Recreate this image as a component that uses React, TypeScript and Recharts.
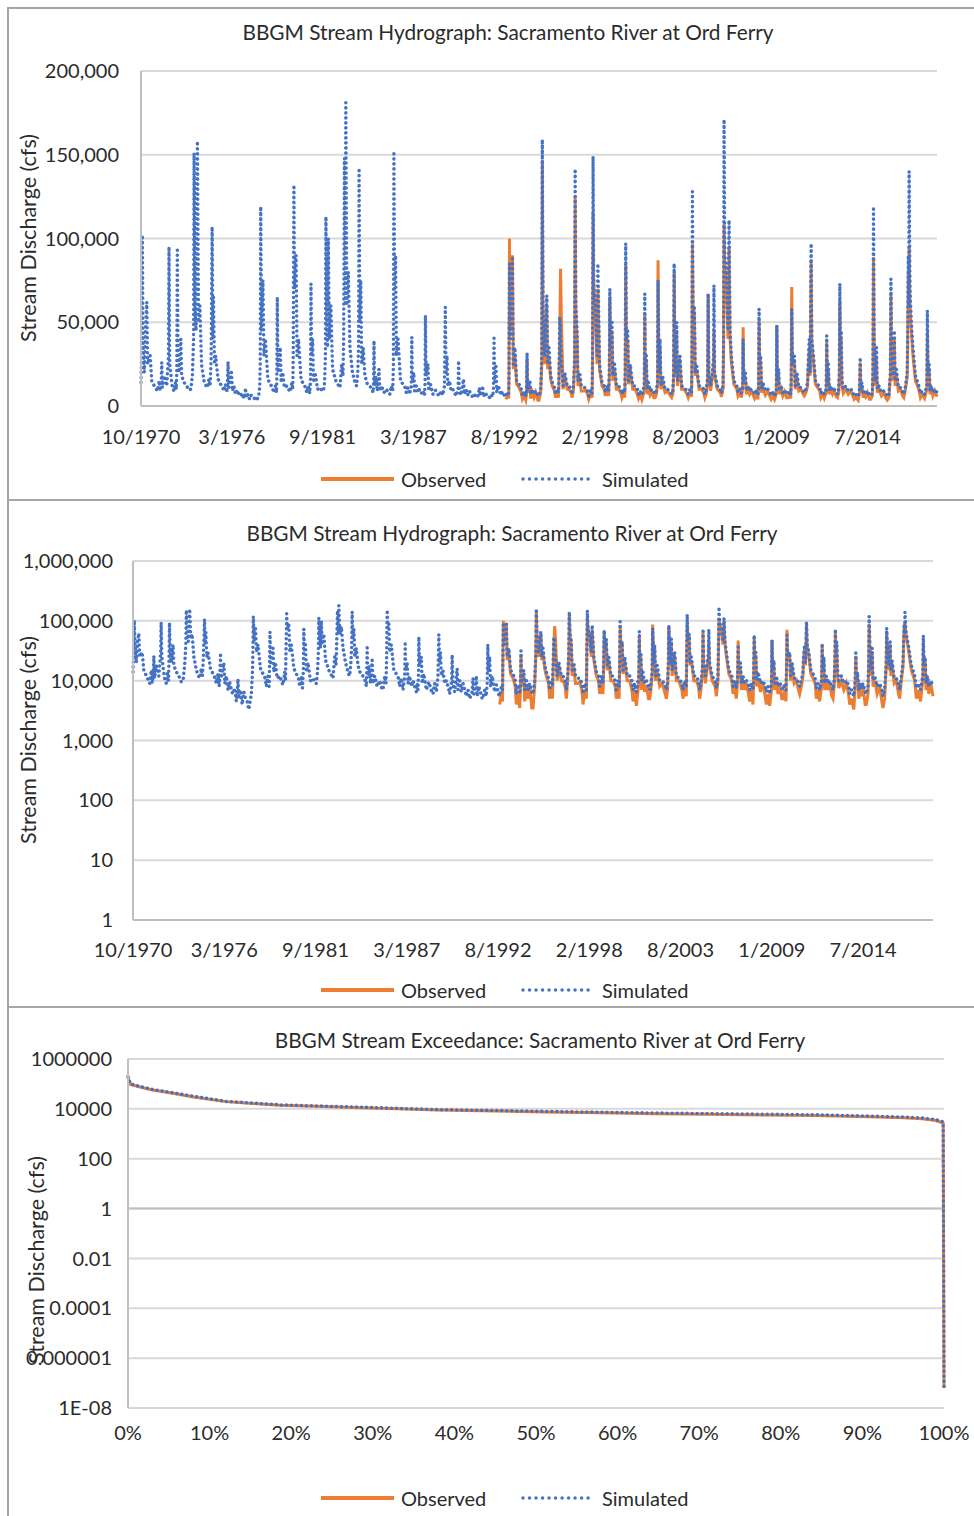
import React from "react";
import { LineChart, Line, XAxis, YAxis, CartesianGrid, ReferenceLine } from "recharts";

const FONT = "Lato, 'Open Sans', sans-serif";
const ORANGE = "#ED7D31";
const BLUE = "#4472C4";
const GRID = "#d9d9d9";
const AXIS = "#bfbfbf";
const TEXT = "#2b2b2b";
const FRAME = "#a6a6a6";

// hydrograph time axis: days since 10/1/1970
const START_YEAR = 1970.75;
const END_DAY = 17530;
const DATE_TICK_DAYS = [0, 2000, 4000, 6000, 8000, 10000, 12000, 14000, 16000];
const DATE_TICK_LABELS = ["10/1970", "3/1976", "9/1981", "3/1987", "8/1992", "2/1998", "8/2003", "1/2009", "7/2014"];

const LINEAR_TICKS = [0, 50000, 100000, 150000, 200000];
const LINEAR_TICK_LABELS = ["0", "50,000", "100,000", "150,000", "200,000"];
const LOG_TICKS = [1, 10, 100, 1000, 10000, 100000, 1000000];
const LOG_TICK_LABELS = ["1", "10", "100", "1,000", "10,000", "100,000", "1,000,000"];
const EXC_TICKS = [1e-8, 1e-6, 1e-4, 1e-2, 1, 100, 10000, 1000000];
const EXC_TICK_LABELS = ["1E-08", "0.000001", "0.0001", "0.01", "1", "100", "10000", "1000000"];
const PCT_TICKS = [0, 0.1, 0.2, 0.3, 0.4, 0.5, 0.6, 0.7, 0.8, 0.9, 1];
const PCT_TICK_LABELS = ["0%", "10%", "20%", "30%", "40%", "50%", "60%", "70%", "80%", "90%", "100%"];

// sample dates (decimal year), 12 per water year
const HYDRO_YEARS = [
  1970.75, 1970.79, 1970.83, 1970.87, 1970.95, 1971.02, 1971.1, 1971.15, 1971.3, 1971.4, 1971.55, 1971.68, // WY1971
  1971.75, 1971.85, 1971.9, 1971.97, 1972.0, 1972.04, 1972.15, 1972.3, 1972.41, 1972.44, 1972.48, 1972.65,
  1972.75, 1972.82, 1972.88, 1972.91, 1972.94, 1972.98, 1973.05, 1973.15, 1973.2, 1973.35, 1973.5, 1973.65,
  1973.75, 1973.85, 1973.92, 1973.95, 1974.0, 1974.07, 1974.15, 1974.22, 1974.3, 1974.4, 1974.55, 1974.68,
  1974.75, 1974.85, 1974.92, 1974.98, 1975.04, 1975.08, 1975.12, 1975.18, 1975.25, 1975.4, 1975.55, 1975.68,
  1975.75, 1975.85, 1975.92, 1975.96, 1976.0, 1976.04, 1976.2, 1976.26, 1976.35, 1976.45, 1976.55, 1976.68,
  1976.75, 1976.85, 1976.95, 1977.0, 1977.05, 1977.1, 1977.2, 1977.3, 1977.4, 1977.5, 1977.6, 1977.7,
  1977.75, 1977.85, 1977.91, 1977.94, 1977.97, 1978.01, 1978.1, 1978.16, 1978.25, 1978.4, 1978.55, 1978.68,
  1978.75, 1978.85, 1978.92, 1978.94, 1978.97, 1979.01, 1979.15, 1979.2, 1979.3, 1979.4, 1979.55, 1979.68,
  1979.75, 1979.85, 1979.9, 1979.93, 1979.97, 1980.0, 1980.1, 1980.16, 1980.25, 1980.4, 1980.55, 1980.68, // WY1980
  1980.75, 1980.85, 1980.92, 1980.97, 1981.0, 1981.03, 1981.1, 1981.15, 1981.25, 1981.4, 1981.55, 1981.68,
  1981.75, 1981.82, 1981.87, 1981.9, 1981.95, 1982.0, 1982.05, 1982.1, 1982.2, 1982.3, 1982.5, 1982.68,
  1982.75, 1982.85, 1982.93, 1982.97, 1983.02, 1983.07, 1983.1, 1983.16, 1983.25, 1983.35, 1983.5, 1983.68,
  1983.75, 1983.82, 1983.87, 1983.9, 1983.94, 1984.0, 1984.06, 1984.15, 1984.25, 1984.4, 1984.55, 1984.68,
  1984.75, 1984.78, 1984.8, 1984.83, 1984.9, 1985.0, 1985.1, 1985.15, 1985.25, 1985.4, 1985.55, 1985.68,
  1985.75, 1985.85, 1985.93, 1985.97, 1986.0, 1986.04, 1986.1, 1986.15, 1986.25, 1986.4, 1986.55, 1986.68,
  1986.75, 1986.85, 1986.95, 1987.05, 1987.08, 1987.11, 1987.2, 1987.25, 1987.35, 1987.45, 1987.55, 1987.68,
  1987.75, 1987.8, 1987.85, 1987.88, 1987.9, 1987.94, 1988.05, 1988.1, 1988.2, 1988.35, 1988.5, 1988.68,
  1988.75, 1988.85, 1988.95, 1989.05, 1989.1, 1989.14, 1989.2, 1989.25, 1989.35, 1989.45, 1989.55, 1989.68,
  1989.75, 1989.82, 1989.87, 1989.9, 1989.94, 1990.05, 1990.2, 1990.25, 1990.35, 1990.45, 1990.55, 1990.68, // WY1990
  1990.75, 1990.85, 1990.95, 1991.1, 1991.15, 1991.2, 1991.3, 1991.35, 1991.4, 1991.5, 1991.6, 1991.7,
  1991.75, 1991.85, 1991.95, 1992.0, 1992.04, 1992.07, 1992.15, 1992.2, 1992.3, 1992.45, 1992.55, 1992.68,
  1992.75, 1992.85, 1992.92, 1992.94, 1992.97, 1993.0, 1993.15, 1993.2, 1993.3, 1993.4, 1993.55, 1993.68, // WY1993, observed starts
  1993.75, 1993.85, 1993.95, 1994.0, 1994.03, 1994.06, 1994.2, 1994.25, 1994.35, 1994.45, 1994.55, 1994.68,
  1994.75, 1994.85, 1994.92, 1994.95, 1994.99, 1995.08, 1995.22, 1995.27, 1995.35, 1995.45, 1995.55, 1995.68,
  1995.75, 1995.85, 1995.92, 1995.95, 1996.0, 1996.05, 1996.1, 1996.2, 1996.3, 1996.45, 1996.55, 1996.68,
  1996.75, 1996.83, 1996.9, 1996.93, 1996.97, 1997.05, 1997.1, 1997.2, 1997.3, 1997.45, 1997.55, 1997.68,
  1997.75, 1997.85, 1997.95, 1997.98, 1998.01, 1998.05, 1998.15, 1998.25, 1998.3, 1998.4, 1998.55, 1998.68,
  1998.75, 1998.85, 1998.95, 1998.99, 1999.02, 1999.06, 1999.15, 1999.2, 1999.3, 1999.42, 1999.55, 1999.68,
  1999.75, 1999.85, 1999.92, 1999.95, 1999.98, 2000.02, 2000.1, 2000.15, 2000.25, 2000.4, 2000.55, 2000.68, // WY2000
  2000.75, 2000.85, 2000.95, 2001.1, 2001.13, 2001.16, 2001.22, 2001.27, 2001.35, 2001.45, 2001.55, 2001.68,
  2001.75, 2001.83, 2001.9, 2001.93, 2001.97, 2002.0, 2002.05, 2002.1, 2002.2, 2002.35, 2002.5, 2002.68,
  2002.75, 2002.82, 2002.87, 2002.9, 2002.94, 2003.0, 2003.05, 2003.1, 2003.25, 2003.35, 2003.5, 2003.68,
  2003.75, 2003.85, 2003.95, 2003.97, 2004.0, 2004.04, 2004.12, 2004.17, 2004.25, 2004.4, 2004.55, 2004.68,
  2004.75, 2004.85, 2004.92, 2004.95, 2004.99, 2005.1, 2005.2, 2005.28, 2005.3, 2005.34, 2005.5, 2005.68,
  2005.75, 2005.85, 2005.88, 2005.91, 2005.95, 2006.05, 2006.15, 2006.21, 2006.27, 2006.35, 2006.5, 2006.68,
  2006.75, 2006.85, 2006.95, 2007.03, 2007.06, 2007.1, 2007.2, 2007.25, 2007.35, 2007.45, 2007.55, 2007.68,
  2007.75, 2007.85, 2007.95, 2007.99, 2008.02, 2008.06, 2008.12, 2008.17, 2008.25, 2008.4, 2008.55, 2008.68,
  2008.75, 2008.85, 2008.95, 2009.06, 2009.09, 2009.13, 2009.2, 2009.25, 2009.35, 2009.45, 2009.55, 2009.68,
  2009.75, 2009.85, 2009.93, 2009.96, 2009.99, 2010.03, 2010.15, 2010.2, 2010.3, 2010.42, 2010.55, 2010.68, // WY2010
  2010.75, 2010.85, 2010.95, 2010.98, 2011.05, 2011.1, 2011.16, 2011.2, 2011.3, 2011.42, 2011.55, 2011.68,
  2011.75, 2011.85, 2011.95, 2012.07, 2012.1, 2012.14, 2012.2, 2012.25, 2012.35, 2012.45, 2012.55, 2012.68,
  2012.75, 2012.82, 2012.86, 2012.89, 2012.93, 2012.97, 2013.02, 2013.1, 2013.25, 2013.4, 2013.55, 2013.68,
  2013.75, 2013.85, 2014.0, 2014.08, 2014.12, 2014.16, 2014.22, 2014.3, 2014.38, 2014.45, 2014.55, 2014.68,
  2014.75, 2014.85, 2014.89, 2014.92, 2014.96, 2015.02, 2015.1, 2015.15, 2015.25, 2015.4, 2015.55, 2015.68,
  2015.75, 2015.85, 2015.94, 2015.97, 2016.01, 2016.1, 2016.18, 2016.22, 2016.3, 2016.42, 2016.55, 2016.68,
  2016.75, 2016.85, 2016.95, 2016.98, 2017.02, 2017.05, 2017.07, 2017.12, 2017.2, 2017.3, 2017.45, 2017.65,
  2017.75, 2017.85, 2018.0, 2018.14, 2018.17, 2018.21, 2018.28, 2018.33, 2018.42, 2018.5, 2018.62, 2018.75,
];

const SIM_CFS = [
  14000, 35000, 102000, 40000, 20000, 45000, 62000, 25000, 30000, 15000, 12000, 10000, // WY1971
  9000, 15000, 9000, 14000, 26000, 11000, 18000, 12000, 30000, 95000, 25000, 10500,
  9000, 14000, 10000, 22000, 93000, 30000, 20000, 40000, 18000, 14000, 12000, 9500,
  10000, 18000, 40000, 151000, 60000, 45000, 158000, 50000, 60000, 25000, 15000, 12000,
  11000, 16000, 12000, 28000, 107000, 40000, 65000, 25000, 30000, 16000, 13000, 11000,
  9000, 13000, 8000, 12000, 26500, 11000, 20000, 9000, 12000, 7000, 9500, 6500,
  6000, 7500, 4500, 6000, 10700, 5000, 7000, 4000, 6500, 5000, 4500, 3300,
  4000, 6000, 12000, 25000, 119000, 45000, 75000, 30000, 40000, 16000, 13000, 11000,
  8000, 12000, 8000, 15000, 65000, 20000, 35000, 14000, 20000, 11000, 12000, 9500,
  8500, 14000, 10000, 30000, 132000, 70000, 90000, 30000, 40000, 16000, 13000, 11000, // WY1980
  8000, 12000, 7500, 15000, 73000, 30000, 40000, 14000, 20000, 10000, 11000, 9000,
  9000, 14000, 30000, 113000, 50000, 35000, 100000, 40000, 60000, 22000, 15000, 12000,
  11000, 25000, 18000, 40000, 148000, 60000, 181000, 60000, 80000, 35000, 20000, 13000,
  12000, 20000, 35000, 142000, 50000, 75000, 25000, 35000, 18000, 13000, 12000, 10000,
  8000, 15000, 39000, 12000, 18000, 9000, 22000, 9000, 12000, 8000, 10000, 7500,
  7000, 12000, 9000, 25000, 152000, 70000, 90000, 30000, 40000, 15000, 13000, 11000,
  8000, 11000, 7000, 12000, 41000, 15000, 20000, 9000, 12000, 8000, 10000, 7500,
  6500, 9000, 7000, 14000, 54000, 18000, 25000, 9000, 13000, 7000, 9500, 6500,
  6000, 9000, 6500, 12000, 59000, 20000, 30000, 12000, 15000, 9000, 10000, 7500,
  6000, 8000, 10000, 27000, 9000, 6500, 16000, 7000, 10000, 6500, 9000, 6500, // WY1990
  5500, 7000, 5000, 6500, 11000, 6000, 8000, 12000, 5500, 8000, 6500, 5000,
  5000, 7000, 5500, 9000, 40500, 14000, 25000, 8000, 12000, 6500, 8500, 6000,
  5500, 8000, 7000, 20000, 85000, 40000, 88000, 25000, 35000, 15000, 13000, 10000,
  6000, 8500, 6000, 9000, 31600, 10000, 15000, 7000, 10000, 7000, 9000, 6500,
  6000, 10000, 30000, 159000, 60000, 30000, 66000, 25000, 35000, 18000, 14000, 11000,
  7000, 10000, 8000, 15000, 53000, 45000, 25000, 12000, 20000, 12000, 12000, 10000,
  7000, 12000, 30000, 141500, 60000, 45000, 15000, 20000, 12000, 11000, 11000, 9000,
  6000, 9000, 7000, 30000, 149000, 70000, 60000, 30000, 85000, 25000, 14000, 12000,
  8000, 12000, 9000, 20000, 70000, 35000, 50000, 18000, 25000, 12000, 12000, 10000,
  7000, 10000, 8000, 20000, 97000, 40000, 45000, 15000, 25000, 12000, 12000, 10000, // WY2000
  7000, 9000, 6500, 12000, 67000, 20000, 30000, 10000, 14000, 9000, 10000, 8000,
  7000, 9000, 15000, 75000, 35000, 20000, 40000, 12000, 18000, 10000, 10000, 8500,
  7000, 9000, 20000, 85000, 35000, 20000, 50000, 15000, 30000, 12000, 11000, 9000,
  7000, 10000, 8000, 25000, 128000, 50000, 60000, 20000, 25000, 12000, 12000, 10000,
  7000, 10000, 18000, 67000, 20000, 12000, 20000, 30000, 72000, 20000, 12000, 10000,
  7500, 12000, 40000, 171000, 90000, 80000, 45000, 111000, 45000, 30000, 15000, 12000,
  8000, 10000, 7500, 12000, 40000, 15000, 20000, 9000, 12000, 9000, 10000, 8500,
  7000, 9000, 7000, 12000, 58000, 25000, 30000, 10000, 14000, 9000, 10000, 8000,
  6500, 8000, 6000, 9000, 48000, 15000, 22000, 9000, 12000, 8000, 9500, 7500,
  7000, 9000, 7000, 15000, 58000, 25000, 30000, 12000, 20000, 11000, 11000, 9000, // WY2010
  8000, 10000, 14000, 25000, 40000, 20000, 97000, 40000, 30000, 15000, 13000, 11000,
  7500, 9000, 7000, 10000, 42000, 14000, 25000, 9000, 12000, 9000, 10000, 8000,
  7000, 10000, 20000, 73000, 30000, 45000, 15000, 10000, 12000, 9000, 10000, 8500,
  6000, 7000, 5500, 10000, 29000, 10000, 14000, 7000, 9000, 7500, 9000, 6500,
  6000, 8000, 20000, 119000, 40000, 15000, 35000, 10000, 12000, 8000, 9000, 7000,
  5500, 7000, 20000, 76000, 35000, 18000, 45000, 15000, 22000, 11000, 11000, 8500,
  7000, 12000, 20000, 40000, 90000, 60000, 140000, 70000, 50000, 35000, 18000, 12000,
  7500, 9000, 7000, 12000, 57000, 20000, 25000, 9000, 12000, 8000, 10000, 8000,
];

// observed gauge record, WY1993 onward (same sample dates)
const OBS_START_YEAR = 1992.75;
const OBS_CFS = [
  4000, 6000, 4500, 18000, 100000, 45000, 90000, 22000, 30000, 13000, 11000, 8000, // WY1993
  4000, 6000, 3500, 7000, 28000, 8000, 12000, 4500, 8000, 5000, 8000, 3500,
  3500, 8000, 25000, 146000, 55000, 25000, 60000, 22000, 30000, 16000, 12000, 9000,
  5000, 8000, 5000, 12000, 40000, 82000, 50000, 10000, 18000, 10000, 10000, 8000,
  5000, 10000, 25000, 125000, 55000, 40000, 12000, 17000, 9000, 9000, 9500, 7000,
  4000, 7000, 5000, 25000, 115000, 75000, 55000, 25000, 70000, 22000, 12000, 10000,
  6000, 10000, 6000, 18000, 65000, 40000, 45000, 15000, 22000, 10000, 10000, 8000,
  5000, 8000, 5000, 17000, 84000, 38000, 40000, 13000, 22000, 10000, 10000, 7000, // WY2000
  4500, 7000, 3800, 9000, 55000, 18000, 28000, 7000, 11000, 6500, 8500, 5000,
  5000, 7000, 13000, 87000, 38000, 17000, 35000, 10000, 15000, 8000, 9000, 6000,
  5000, 7000, 17000, 80000, 32000, 17000, 45000, 12000, 26000, 10000, 10000, 7000,
  5000, 8000, 5500, 22000, 97000, 60000, 55000, 18000, 22000, 10000, 10000, 8000,
  5000, 8000, 15000, 67000, 18000, 9000, 17000, 25000, 45000, 18000, 10000, 8000,
  5500, 10000, 35000, 109000, 85000, 70000, 40000, 95000, 40000, 26000, 13000, 10000,
  6000, 8000, 5000, 10000, 47000, 13000, 17000, 7000, 10000, 7000, 9000, 6000,
  4500, 7000, 4000, 10000, 52000, 22000, 27000, 8000, 11000, 6500, 9000, 5500,
  4000, 6000, 3800, 7000, 48000, 13000, 20000, 7000, 10000, 6000, 8500, 5000,
  5000, 7000, 4500, 13000, 71000, 24000, 28000, 10000, 17000, 9000, 10000, 7000, // WY2010
  6000, 8000, 12000, 22000, 35000, 18000, 87000, 38000, 26000, 13000, 11000, 9000,
  5000, 7000, 4500, 8000, 38000, 12000, 22000, 7000, 10000, 7000, 9000, 5500,
  5000, 8000, 18000, 63000, 28000, 40000, 12000, 7500, 10000, 7000, 9000, 6000,
  4000, 5000, 3300, 8000, 26000, 8000, 12000, 5000, 7000, 5500, 8000, 4000,
  4000, 6000, 18000, 89000, 35000, 12000, 30000, 8000, 10000, 6000, 8000, 4500,
  3500, 5000, 18000, 67000, 30000, 15000, 40000, 12000, 19000, 9000, 10000, 6000,
  5000, 10000, 17000, 35000, 80000, 55000, 95000, 60000, 45000, 30000, 15000, 10000,
  5000, 7000, 4500, 10000, 44000, 18000, 22000, 7000, 10000, 6000, 9000, 5500,
];

// exceedance curves
const EXC_PCT = [0, 0.003, 0.016, 0.03, 0.055, 0.08, 0.12, 0.186, 0.24, 0.285, 0.33, 0.38, 0.45, 0.51, 0.58, 0.646, 0.71, 0.777, 0.84, 0.908, 0.95, 0.973, 0.99, 0.999, 1];
const EXC_SIM = [195000, 100000, 77000, 60000, 44000, 32000, 20000, 14500, 12800, 11700, 10500, 9300, 8600, 7900, 7300, 6800, 6500, 6100, 5800, 5100, 4700, 4300, 3700, 3000, 6.3e-8];
const EXC_OBS = [180000, 95000, 74000, 57000, 42000, 30000, 19500, 14000, 12300, 11200, 10000, 8900, 8200, 7500, 6900, 6400, 6100, 5700, 5400, 4800, 4400, 4000, 3400, 2700, 6.3e-8];

const obsOffset = HYDRO_YEARS.indexOf(OBS_START_YEAR);
const hydroData = HYDRO_YEARS.map((yr, i) => ({
  day: Math.round((yr - START_YEAR) * 365.25),
  sim: SIM_CFS[i],
  obs: i >= obsOffset ? OBS_CFS[i - obsOffset] : undefined,
}));
const excData = EXC_PCT.map((p, i) => ({ p, sim: EXC_SIM[i], obs: EXC_OBS[i] }));

const tickStyle = { fontSize: 20, fill: TEXT, fontFamily: FONT };
const labelFrom = (ticks: number[], labels: string[]) => (v: number) => {
  const i = ticks.findIndex((t) => Math.abs(t - v) <= Math.abs(t) * 1e-9);
  return i >= 0 ? labels[i] : "";
};

function Frame({ top, height }: { top: number; height: number }) {
  return (
    <div
      style={{
        position: "absolute",
        left: 7,
        top,
        width: 967,
        height,
        borderTop: `2px solid ${FRAME}`,
        borderLeft: `2px solid ${FRAME}`,
        boxSizing: "border-box",
      }}
    />
  );
}

function Title({ text, cx, cy }: { text: string; cx: number; cy: number }) {
  return (
    <div
      style={{
        position: "absolute",
        left: cx,
        top: cy,
        transform: "translate(-50%, -50%)",
        whiteSpace: "nowrap",
        fontFamily: FONT,
        fontSize: 20.8,
        color: TEXT,
      }}
    >
      {text}
    </div>
  );
}

function YTitle({ cx, cy }: { cx: number; cy: number }) {
  return (
    <div
      style={{
        position: "absolute",
        left: cx,
        top: cy,
        transform: "translate(-50%, -50%) rotate(-90deg)",
        whiteSpace: "nowrap",
        fontFamily: FONT,
        fontSize: 21.5,
        color: TEXT,
      }}
    >
      Stream Discharge (cfs)
    </div>
  );
}

function LegendRow({ cy }: { cy: number }) {
  return (
    <div style={{ position: "absolute", left: 0, top: cy - 15, width: 974, height: 30 }}>
      <svg width={974} height={30} style={{ position: "absolute", left: 0, top: 0 }}>
        <line x1={321} x2={394} y1={15} y2={15} stroke={ORANGE} strokeWidth={4} />
        <line
          x1={523}
          x2={590}
          y1={15}
          y2={15}
          stroke={BLUE}
          strokeWidth={3.5}
          strokeDasharray="0.01 6.5"
          strokeLinecap="round"
        />
      </svg>
      {[
        ["Observed", 401],
        ["Simulated", 602],
      ].map(([t, x]) => (
        <span
          key={t as string}
          style={{
            position: "absolute",
            left: x as number,
            top: 0,
            lineHeight: "30px",
            fontFamily: FONT,
            fontSize: 20,
            color: TEXT,
          }}
        >
          {t}
        </span>
      ))}
    </div>
  );
}

export default function App() {
  const obsLine = (
    <Line
      dataKey="obs"
      stroke={ORANGE}
      strokeWidth={3}
      dot={false}
      activeDot={false}
      isAnimationActive={false}
    />
  );
  const simLine = (
    <Line
      dataKey="sim"
      stroke={BLUE}
      strokeWidth={3.5}
      strokeDasharray="0.01 5"
      strokeLinecap="round"
      dot={false}
      activeDot={false}
      isAnimationActive={false}
    />
  );

  return (
    <div style={{ position: "relative", width: 974, height: 1516, background: "#fff" }}>
      <style>{"body{margin:0;overflow:hidden;background:#fff}"}</style>
      <Frame top={7} height={493} />
      <Frame top={499} height={509} />
      <Frame top={1006} height={510} />

      {/* chart 1: linear hydrograph */}
      <div style={{ position: "absolute", left: 0, top: 0 }}>
        <LineChart width={974} height={500} data={hydroData} margin={{ top: 71, right: 37, bottom: 54, left: 0 }}>
          <CartesianGrid vertical={false} stroke={GRID} strokeWidth={2} />
          <XAxis
            dataKey="day"
            type="number"
            domain={[0, END_DAY]}
            ticks={DATE_TICK_DAYS}
            interval={0}
            tickFormatter={labelFrom(DATE_TICK_DAYS, DATE_TICK_LABELS)}
            tick={tickStyle}
            tickLine={false}
            tickMargin={18}
            height={40}
            axisLine={{ stroke: AXIS, strokeWidth: 2 }}
          />
          <YAxis
            type="number"
            domain={[0, 200000]}
            ticks={LINEAR_TICKS}
            interval={0}
            tickFormatter={labelFrom(LINEAR_TICKS, LINEAR_TICK_LABELS)}
            tick={tickStyle}
            tickLine={false}
            tickMargin={16}
            width={141}
            axisLine={{ stroke: AXIS, strokeWidth: 2 }}
          />
          {obsLine}
          {simLine}
        </LineChart>
      </div>
      <Title text="BBGM Stream Hydrograph: Sacramento River at Ord Ferry" cx={508} cy={31} />
      <YTitle cx={28} cy={238} />
      <LegendRow cy={479} />

      {/* chart 2: log hydrograph */}
      <div style={{ position: "absolute", left: 0, top: 500 }}>
        <LineChart width={974} height={508} data={hydroData} margin={{ top: 61, right: 41, bottom: 48, left: 0 }}>
          <CartesianGrid vertical={false} stroke={GRID} strokeWidth={2} />
          <XAxis
            dataKey="day"
            type="number"
            domain={[0, END_DAY]}
            ticks={DATE_TICK_DAYS}
            interval={0}
            tickFormatter={labelFrom(DATE_TICK_DAYS, DATE_TICK_LABELS)}
            tick={tickStyle}
            tickLine={false}
            tickMargin={17}
            height={40}
            axisLine={{ stroke: AXIS, strokeWidth: 2 }}
          />
          <YAxis
            type="number"
            scale="log"
            domain={[1, 1000000]}
            allowDataOverflow
            ticks={LOG_TICKS}
            interval={0}
            tickFormatter={labelFrom(LOG_TICKS, LOG_TICK_LABELS)}
            tick={tickStyle}
            tickLine={false}
            tickMargin={14}
            width={133}
            axisLine={{ stroke: AXIS, strokeWidth: 2 }}
          />
          {obsLine}
          {simLine}
        </LineChart>
      </div>
      <Title text="BBGM Stream Hydrograph: Sacramento River at Ord Ferry" cx={512} cy={532} />
      <YTitle cx={28} cy={740} />
      <LegendRow cy={990} />

      {/* chart 3: exceedance */}
      <div style={{ position: "absolute", left: 0, top: 1008 }}>
        <LineChart width={974} height={508} data={excData} margin={{ top: 51, right: 30, bottom: 68, left: 0 }}>
          <CartesianGrid vertical={false} stroke={GRID} strokeWidth={2} />
          <XAxis
            dataKey="p"
            type="number"
            domain={[0, 1]}
            ticks={PCT_TICKS}
            interval={0}
            tickFormatter={labelFrom(PCT_TICKS, PCT_TICK_LABELS)}
            tick={tickStyle}
            tickLine={false}
            tickMargin={12}
            height={40}
            axisLine={false}
          />
          <YAxis
            type="number"
            scale="log"
            domain={[1e-8, 1000000]}
            allowDataOverflow
            ticks={EXC_TICKS}
            interval={0}
            tickFormatter={labelFrom(EXC_TICKS, EXC_TICK_LABELS)}
            tick={tickStyle}
            tickLine={false}
            tickMargin={10}
            width={128}
            axisLine={{ stroke: AXIS, strokeWidth: 2 }}
          />
          <ReferenceLine y={1} stroke={AXIS} strokeWidth={2} />
          {obsLine}
          {simLine}
        </LineChart>
      </div>
      <Title text="BBGM Stream Exceedance: Sacramento River at Ord Ferry" cx={540} cy={1039} />
      <YTitle cx={36} cy={1260} />
      <LegendRow cy={1498} />
    </div>
  );
}
